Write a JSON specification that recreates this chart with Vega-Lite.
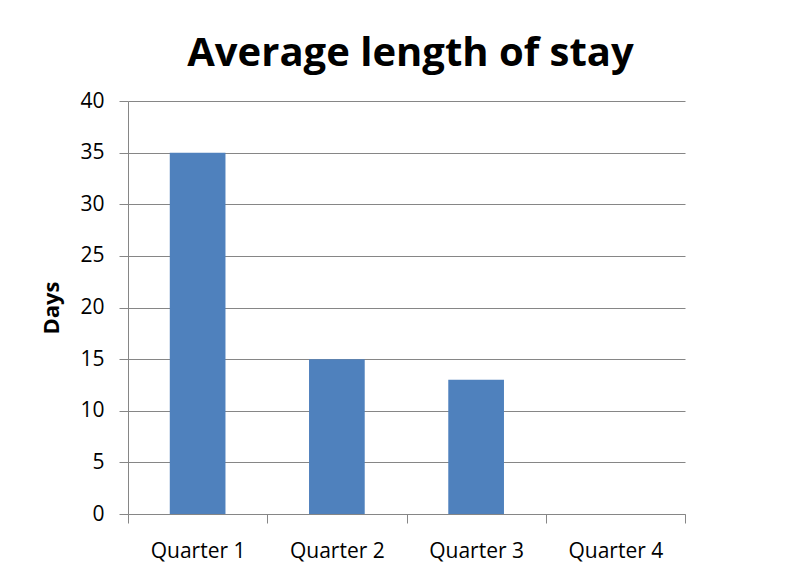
{
  "$schema": "https://vega.github.io/schema/vega-lite/v6.json",
  "width": 557,
  "height": 413,
  "autosize": {"type": "none"},
  "padding": {"left": 128, "top": 101, "right": 116, "bottom": 67},
  "background": "white",
  "title": {
    "text": "Average length of stay",
    "font": "Open Sans",
    "fontSize": 40,
    "fontWeight": "bold",
    "color": "#000000",
    "anchor": "middle",
    "frame": "group",
    "baseline": "alphabetic",
    "offset": 24,
    "dy": 40,
    "dx": 4
  },
  "data": {
    "values": [
      {"quarter": "Quarter 1", "days": 35},
      {"quarter": "Quarter 2", "days": 15},
      {"quarter": "Quarter 3", "days": 13},
      {"quarter": "Quarter 4", "days": 0}
    ]
  },
  "mark": {"type": "bar", "color": "#4F81BD", "width": {"band": 0.4}},
  "encoding": {
    "x": {
      "field": "quarter",
      "type": "nominal",
      "sort": null,
      "scale": {"paddingInner": 0, "paddingOuter": 0},
      "axis": {
        "title": null,
        "labelAngle": 0,
        "labelFont": "Open Sans",
        "labelFontSize": 21,
        "labelColor": "#000000",
        "labelPadding": 17,
        "tickBand": "extent",
        "tickSize": 9,
        "tickColor": "#868686",
        "domainColor": "#868686",
        "grid": false
      }
    },
    "y": {
      "field": "days",
      "type": "quantitative",
      "scale": {"domain": [0, 40]},
      "axis": {
        "title": "Days",
        "titleFont": "Open Sans",
        "titleFontSize": 22,
        "titleFontWeight": "bold",
        "titleColor": "#000000",
        "titlePadding": 16,
        "values": [0, 5, 10, 15, 20, 25, 30, 35, 40],
        "labelFont": "Open Sans",
        "labelFontSize": 21,
        "labelColor": "#000000",
        "labelPadding": 15,
        "tickSize": 9,
        "tickColor": "#868686",
        "domainColor": "#868686",
        "gridColor": "#868686",
        "gridOpacity": 1
      }
    }
  },
  "config": {"view": {"stroke": null}}
}
